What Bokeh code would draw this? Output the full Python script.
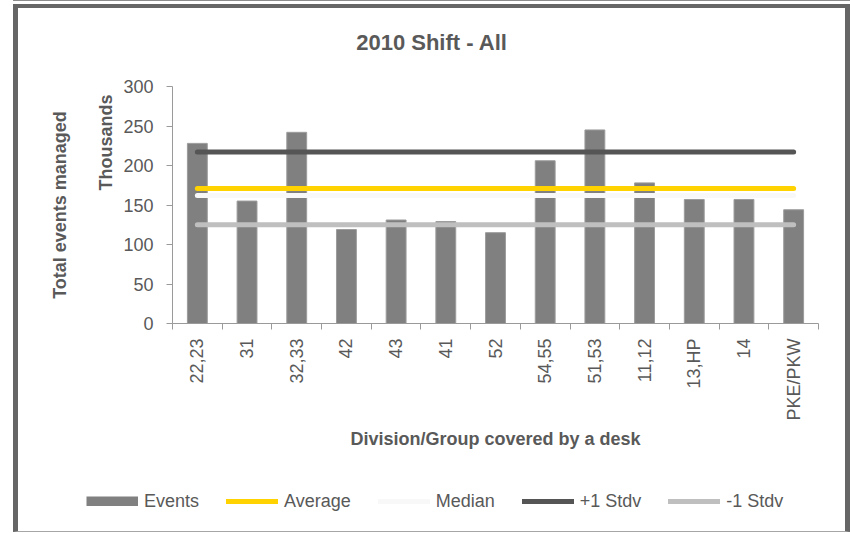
import math
from bokeh.plotting import figure
from bokeh.layouts import column
from bokeh.models import Range1d, FixedTicker, Legend, LegendItem, Title, Label, Plot
from bokeh.embed import file_html
from bokeh.resources import INLINE

# ---------------- data ----------------
categories = ["22,23", "31", "32,33", "42", "43", "41", "52",
              "54,55", "51,53", "11,12", "13,HP", "14", "PKE/PKW"]
events = [228, 155, 242, 119, 131, 129, 115, 206, 245, 178, 157, 157, 144]   # thousands
average = [171, 171, 171, 171, 171, 171, 171, 171, 171, 171, 171, 171, 171]
median = [162, 162, 162, 162, 162, 162, 162, 162, 162, 162, 162, 162, 162]
plus_stdv = [217, 217, 217, 217, 217, 217, 217, 217, 217, 217, 217, 217, 217]
minus_stdv = [125, 125, 125, 125, 125, 125, 125, 125, 125, 125, 125, 125, 125]
y_ticks = [0, 50, 100, 150, 200, 250, 300]
series_names = ["Events", "Average", "Median", "+1 Stdv", "-1 Stdv"]

title_text = "2010 Shift - All"
x_title = "Division/Group covered by a desk"
y_title = "Total events managed"
y_units = "Thousands"

# ---------------- styling ----------------
FONT = "Liberation Sans"
TXT = "#595959"
AXIS = "#9a9a9a"
BAR = "#808080"
BAR_EDGE = "#9c9c9c"
COL_AVG, COL_MED, COL_PLUS, COL_MINUS = "#ffd200", "#f8f8f8", "#555555", "#bfbfbf"
SIDE = "5px solid #666666"
W = 837
HAS_ALIGN = hasattr(Plot, "frame_align")

n = len(categories)
xs = [i + 0.5 for i in range(n)]
bounds = [i for i in range(n + 1)]


def blank(h, styles, y_lo=0):
    f = figure(width=W, height=h, output_backend="svg", toolbar_location=None,
               x_range=Range1d(0, n), y_range=Range1d(y_lo, y_lo + 1),
               x_axis_location=None, y_axis_location=None,
               min_border=0, title=None)
    f.outline_line_color = None
    f.background_fill_color = "white"
    f.border_fill_color = "white"
    f.grid.visible = False
    f.styles = styles
    if HAS_ALIGN:
        f.frame_align = False
    return f


# ---------------- header (title) ----------------
head = blank(56, {"border-left": SIDE, "border-top": "4px solid #666666",
                  "border-right": SIDE})
head.add_layout(Label(text=title_text, x=413.5 if HAS_ALIGN else 259.5, y=22.5,
                      x_units="screen", y_units="screen",
                      text_align="center", text_baseline="middle", text_font=FONT,
                      text_font_size="22px", text_font_style="bold", text_color=TXT))

# ---------------- main chart ----------------
p = figure(width=W, height=410, output_backend="svg", toolbar_location=None,
           x_range=Range1d(0, n), y_range=Range1d(0, y_ticks[-1]),
           min_border_left=154, min_border_right=37,
           min_border_top=26, min_border_bottom=147, title=None)
p.styles = {"border-left": SIDE, "border-right": SIDE}
if HAS_ALIGN:
    p.frame_align = False
p.outline_line_color = None
p.background_fill_color = "white"
p.border_fill_color = "white"
p.xgrid.visible = False
p.ygrid.visible = False

p.vbar(x=xs, top=events, width=0.4, fill_color=BAR, line_color=BAR_EDGE, line_width=1)
p.line(x=xs, y=average, line_color=COL_AVG, line_width=5, line_cap="round")
p.line(x=xs, y=median, line_color=COL_MED, line_width=5, line_cap="round")
p.line(x=xs, y=plus_stdv, line_color=COL_PLUS, line_width=5, line_cap="round")
p.line(x=xs, y=minus_stdv, line_color=COL_MINUS, line_width=5, line_cap="round")

ya = p.yaxis[0]
ya.ticker = FixedTicker(ticks=y_ticks)
ya.axis_line_color = AXIS
ya.major_tick_line_color = AXIS
ya.major_tick_out = 6
ya.major_tick_in = 0
ya.minor_tick_line_color = None
ya.major_label_standoff = 13
ya.major_label_text_font = FONT
ya.major_label_text_font_size = "18px"
ya.major_label_text_color = TXT

xa = p.xaxis[0]
xa.ticker = FixedTicker(ticks=xs, minor_ticks=bounds)
xa.major_label_overrides = {x: c for x, c in zip(xs, categories)}
xa.axis_line_color = AXIS
xa.major_tick_line_color = None
xa.major_tick_out = 0
xa.major_tick_in = 0
xa.minor_tick_line_color = AXIS
xa.minor_tick_out = 6
xa.minor_tick_in = 0
xa.major_label_orientation = math.pi / 2
xa.major_label_standoff = 9
xa.major_label_text_font = FONT
xa.major_label_text_font_size = "18px"
xa.major_label_text_color = TXT
xa.axis_label = x_title
xa.axis_label_standoff = 5
xa.axis_label_text_font = FONT
xa.axis_label_text_font_size = "18px"
xa.axis_label_text_font_style = "bold"
xa.axis_label_text_color = TXT

p.add_layout(Title(text=y_units, align="right", offset=8, standoff=10,
                   text_font=FONT, text_font_size="18px", text_font_style="bold",
                   text_color=TXT), "left")
p.add_layout(Title(text=y_title, align="center", standoff=38,
                   text_font=FONT, text_font_size="18px", text_font_style="bold",
                   text_color=TXT), "left")

# ---------------- footer (legend) ----------------
# same series drawn far outside this strip's y range, so only their legend swatches show
foot = blank(62, {"border-left": SIDE, "border-right": SIDE,
                  "border-bottom": "1px solid #a6a6a6"}, y_lo=1000)
r_ev = foot.line(x=xs, y=events, line_color=BAR, line_width=10, line_cap="butt")
r_avg = foot.line(x=xs, y=average, line_color=COL_AVG, line_width=5, line_cap="round")
r_med = foot.line(x=xs, y=median, line_color=COL_MED, line_width=5, line_cap="round")
r_plus = foot.line(x=xs, y=plus_stdv, line_color=COL_PLUS, line_width=5, line_cap="round")
r_minus = foot.line(x=xs, y=minus_stdv, line_color=COL_MINUS, line_width=5, line_cap="round")
legend = Legend(items=[LegendItem(label=nm, renderers=[r]) for nm, r in
                       zip(series_names, [r_ev, r_avg, r_med, r_plus, r_minus])],
                location=(68 if HAS_ALIGN else -86, 20.5), orientation="horizontal",
                glyph_width=52, glyph_height=10, label_standoff=6, spacing=27,
                padding=0, margin=0, border_line_alpha=0, background_fill_alpha=0,
                label_text_font=FONT, label_text_font_size="18px", label_text_color=TXT)
foot.add_layout(legend)

layout = column(head, p, foot, spacing=0)
layout.styles = {"margin-left": "13px", "margin-top": "4px",
                 "box-shadow": "0 -3px 0 0 #ffffff, 0 -4px 0 0 #8c8c8c"}

open("out.html", "w").write(file_html(layout, INLINE))
